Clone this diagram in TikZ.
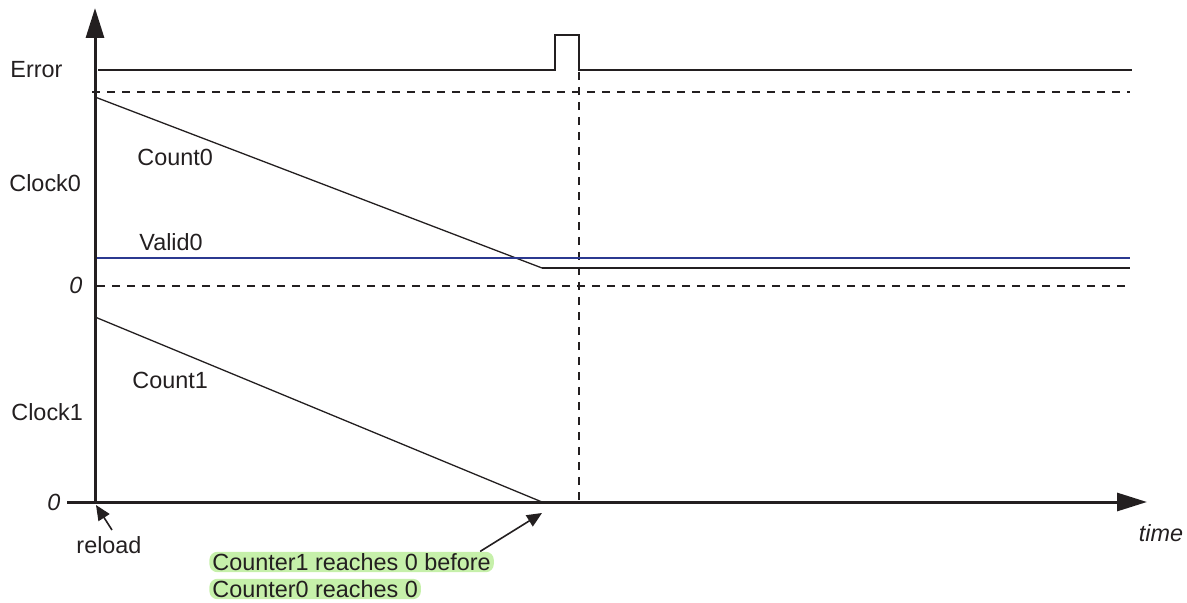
\documentclass[tikz,border=0pt]{standalone}
\usepackage{fontspec}
\setmainfont{Liberation Sans}
\usetikzlibrary{arrows.meta}
\definecolor{ink}{RGB}{35,31,32}
\definecolor{validblue}{RGB}{43,57,144}
\definecolor{hl}{RGB}{198,240,170}
\begin{document}
\begin{tikzpicture}[x=0.5pt,y=-0.5pt,
  every node/.style={font=\fontsize{11.7}{14}\selectfont, text=ink, inner sep=0pt},
  lbl/.style={anchor=west},
  zerolbl/.style={font=\fontsize{11.7}{14}\selectfont\itshape},
  axisline/.style={draw=ink, line width=1.5pt, -{Triangle[length=15pt,width=9pt]}},
  sigline/.style={draw=ink, line width=1.4pt},
  thinline/.style={draw=ink, line width=0.65pt},
  midline/.style={draw=ink, line width=1.2pt},
  validline/.style={draw=validblue, line width=1.1pt},
  gridline/.style={draw=ink, line width=1pt, dash pattern=on 4pt off 3.5pt},
  pointer/.style={draw=ink, line width=0.8pt, -{Triangle[length=7.5pt,width=6.5pt]}},
  hlbox/.style={fill=hl, rounded corners=4pt, inner xsep=1.5pt, inner ysep=0.6pt,
                text height=8.6pt, text depth=0.4pt, anchor=west}
]
\useasboundingbox (0,0) rectangle (1187,603);

% coordinates
\coordinate (o) at (95,502);
\coordinate (ytop) at (95,8);
\coordinate (xleft) at (67,502);
\coordinate (xend) at (1147,502);
\coordinate (rtip) at (96,505);
\coordinate (atip) at (542,513);

% dashed guides
\draw[gridline] (92,92) -- (1130,92);
\draw[gridline] (97,286) -- (1130,286);
\draw[gridline] (579,72) -- (579,502);

% signals
\draw[sigline] (98,70) -- (555,70) -- (555,35) -- (579,35) -- (579,70) -- (1132,70);
\draw[thinline] (95,97) -- (542,268);
\draw[midline] (542,268) -- (1130,268);
\draw[validline] (95,258) -- (1130,258);
\draw[thinline] (95,317) -- (542,502);

% axes
\draw[axisline] (o) -- (ytop);
\draw[axisline] (xleft) -- (xend);

% labels
\node[lbl] (err) at (10,70) {Error};
\node[lbl] (clk0) at (9,183) {Clock0};
\node[lbl] (clk1) at (11,412) {Clock1};
\node[lbl] (cnt0) at (137,157) {Count0};
\node[lbl] (val0) at (139,242) {Valid0};
\node[lbl] (cnt1) at (132,380) {Count1};
\node[zerolbl] (z0) at (76,285) {0};
\node[zerolbl] (z1) at (54,502) {0};
\node[zerolbl] (tm) at (1161,533) {time};
\node (rl) at (109,545) {reload};

% annotation
\node[hlbox] (ann1) at (209,562) {Counter1 reaches 0 before};
\node[hlbox] (ann2) at (209,589) {Counter0 reaches 0};

% pointers
\draw[pointer] ([xshift=1.5pt,yshift=3pt]rl.north) -- (rtip);
\draw[pointer] ([xshift=-7pt]ann1.north east) -- (atip);
\end{tikzpicture}
\end{document}
